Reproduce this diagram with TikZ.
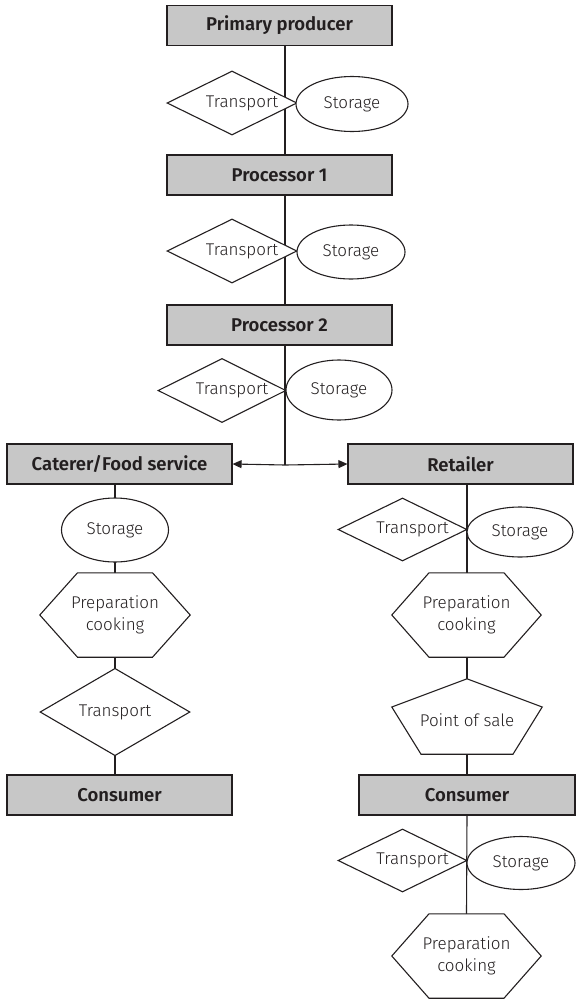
\documentclass[tikz,border=0pt]{standalone}
\usepackage{fontspec}
\setmainfont{Fira Sans Light}[BoldFont={Fira Sans SemiBold}]
\usetikzlibrary{shapes.geometric,arrows.meta,backgrounds,calc}
\definecolor{boxgray}{RGB}{199,199,199}
\definecolor{ink}{RGB}{35,31,32}
\begin{document}
\begin{tikzpicture}[x=1pt,y=-1pt,
  every node/.style={text=ink, font=\fontsize{17}{22}\selectfont},
  line/.style={draw=ink, line width=1.1pt},
  stagebox/.style={line, fill=boxgray, minimum width=225pt, minimum height=40pt,
    inner sep=0pt, font=\fontsize{18.5}{22}\selectfont\bfseries},
  tdiamond/.style={line, fill=white, diamond, inner sep=0pt,
    minimum width=#1, minimum height=64pt},
  tdiamond/.default=130pt,
  tellipse/.style={line, fill=white, ellipse, inner sep=0pt},
  plain/.style={inner sep=0pt, align=center},
  arrowtip/.style={-{Triangle[length=9pt,width=8pt]}}
]
\useasboundingbox (0,0) rectangle (576,999);

% spines of the three chains
\coordinate (sp) at (285,0);
\coordinate (spl) at (115,0);
\coordinate (spr) at (467,0);

% main chain
\node[stagebox] (pp) at (279.5,25.5) {Primary producer};
\node[tdiamond] (d1) at (232,103) {};
\node[plain] (d1t) at ([xshift=10pt]d1.center) {Transport};
\node[tellipse, minimum width=112pt, minimum height=55pt] (e1) at (352,104) {Storage};

\node[stagebox] (p1) at (279.5,175) {Processor 1};
\node[tdiamond] (d2) at (232,251) {};
\node[plain] (d2t) at ([xshift=10pt]d2.center) {Transport};
\node[tellipse, minimum width=108pt, minimum height=54pt] (e2) at (351,252) {Storage};

\node[stagebox] (p2) at (279.5,325) {Processor 2};
\node[tdiamond=128pt] (d3) at (222,390.5) {};
\node[plain] (d3t) at ([xshift=10pt]d3.center) {Transport};
\node[tellipse, minimum width=106pt, minimum height=60pt] (e3) at (339,390) {Storage};

\coordinate (split) at (285,465);

% caterer branch
\node[stagebox] (cat) at (119.5,464) {Caterer/Food service};
\node[tellipse, minimum width=107pt, minimum height=64pt] (le) at (115,530) {Storage};
\node[plain, minimum width=150pt, minimum height=84pt] (lh) at (115,615) {Preparation\\cooking};
\node[tdiamond=150pt, minimum height=63pt] (ld) at (115,712) {Transport};
\node[stagebox] (con1) at (119.5,795) {Consumer};

% retail branch
\node[stagebox] (ret) at (460.5,464) {Retailer};
\node[tdiamond=129pt, minimum height=63pt] (rd1) at (402.5,529.5) {};
\node[plain] (rd1t) at ([xshift=10pt]rd1.center) {Transport};
\node[tellipse, minimum width=106pt, minimum height=50pt] (re1) at (520,532) {Storage};
\node[plain, minimum width=149pt, minimum height=84pt] (rh1) at (466.5,615) {Preparation\\cooking};
\node[plain, minimum width=150pt, minimum height=75pt] (pos) at (467,716.5) {};
\node[plain] (post) at (467,720) {Point of sale};
\node[stagebox, minimum width=216pt] (con2) at (467,795) {Consumer};
\node[tdiamond=129pt, minimum height=63pt] (rd2) at (402.5,860.5) {};
\node[plain] (rd2t) at ([xshift=10pt]rd2.center) {Transport};
\node[tellipse, minimum width=108pt, minimum height=53pt] (re2) at (521,863) {Storage};
\node[plain, minimum width=149pt, minimum height=84pt] (rh2) at (466.5,956) {Preparation\\cooking};

\begin{pgfonlayer}{background}
  % connectors behind the shapes
  \draw[line] (pp.south -| sp) -- (p1.north -| sp);
  \draw[line] (p1.south -| sp) -- (p2.north -| sp);
  \draw[line] (p2.south -| sp) -- (split);
  \draw[line, arrowtip] (split) -- (cat.east);
  \draw[line, arrowtip] (split) -- (ret.west);
  \draw[line] (cat.south -| spl) -- (con1.north -| spl);
  \draw[line] (ret.south -| spr) -- (pos.north);
  \draw[line] (pos.south) -- (con2.north);
  \draw[line] (con2.south) -- (rh2.north);
  % hexagons and pentagon outlines
  \foreach \h in {lh,rh1,rh2} {
    \draw[line, fill=white]
      ($(\h.north)+(-37.5,0)$) -- ($(\h.north)+(37.5,0)$) -- (\h.east)
      -- ($(\h.south)+(37.5,0)$) -- ($(\h.south)+(-37.5,0)$) -- (\h.west) -- cycle;
  }
  \draw[line, fill=white]
    (pos.north) -- ($(pos.east)+(0,-9.5)$) -- ($(pos.south)+(46,0)$)
    -- ($(pos.south)+(-46,0)$) -- ($(pos.west)+(0,-9.5)$) -- cycle;
\end{pgfonlayer}
\end{tikzpicture}
\end{document}
